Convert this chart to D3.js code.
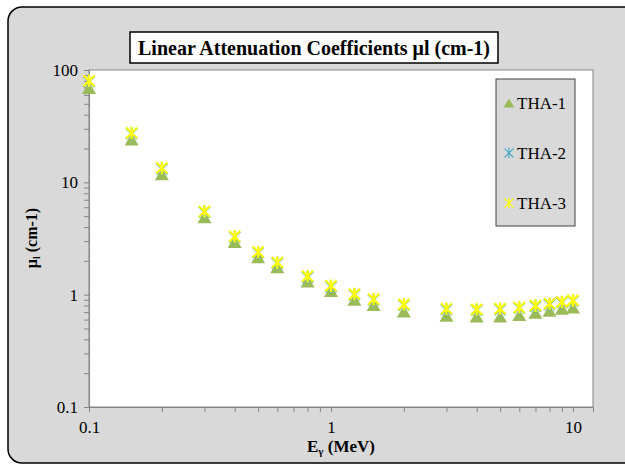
<!DOCTYPE html>
<html>
<head>
<meta charset="utf-8">
<script src="https://cdn.jsdelivr.net/npm/d3@7"></script>
<style>
  html, body { margin: 0; padding: 0; background: #ffffff; }
  svg { display: block; }
</style>
</head>
<body>
<svg id="chart" width="625" height="468"></svg>
<script>
// Photon energies (MeV)
const energies = [0.1, 0.15, 0.2, 0.3, 0.4, 0.5, 0.6, 0.8, 1, 1.25, 1.5, 2, 3, 4, 5, 6, 7, 8, 9, 10];

// Linear attenuation coefficients (cm-1) for each sample
const tha1 = [69, 24, 11.8, 4.9, 2.95, 2.15, 1.75, 1.31, 1.08, 0.9, 0.81, 0.71, 0.65, 0.64, 0.64, 0.66, 0.69, 0.72, 0.75, 0.77];
const tha2 = [79, 27.2, 13.2, 5.45, 3.26, 2.37, 1.91, 1.44, 1.18, 1.0, 0.9, 0.81, 0.74, 0.73, 0.74, 0.76, 0.79, 0.82, 0.85, 0.88];
const tha3 = [80, 27.5, 13.4, 5.5, 3.3, 2.4, 1.93, 1.46, 1.2, 1.01, 0.91, 0.82, 0.75, 0.74, 0.75, 0.77, 0.8, 0.83, 0.86, 0.89];

const seriesNames = ["THA-1", "THA-2", "THA-3"];
const xTickValues = [0.1, 1, 10];
const yTickValues = [0.1, 1, 10, 100];

const FONT = '"Liberation Serif"';
const svg = d3.select("#chart").attr("font-family", "Liberation Serif");

// Chart area background with rounded left corners
svg.append("rect")
  .attr("x", 8).attr("y", 7)
  .attr("width", 680).attr("height", 456)
  .attr("rx", 14).attr("ry", 14)
  .attr("fill", "#d9d9d9")
  .attr("stroke", "#000").attr("stroke-width", 1.5);

const plot = { left: 89, top: 70, right: 593, bottom: 407 };

const x = d3.scaleLog().domain([0.1, 12.1]).range([plot.left, plot.right]);
const y = d3.scaleLog().domain([0.1, 100]).range([plot.bottom, plot.top]);

// Plot area
svg.append("rect")
  .attr("x", plot.left).attr("y", plot.top)
  .attr("width", plot.right - plot.left).attr("height", plot.bottom - plot.top)
  .attr("fill", "#fff")
  .attr("stroke", "#868686").attr("stroke-width", 1);

// Axes
const minorX = [];
[0.1, 1].forEach(d => { for (let k = 2; k <= 9; k++) minorX.push(d * k); });
const minorY = [];
[0.1, 1, 10].forEach(d => { for (let k = 2; k <= 9; k++) minorY.push(d * k); });

const xAxis = d3.axisBottom(x).tickValues(xTickValues.concat(minorX))
  .tickSize(5).tickFormat(d => xTickValues.includes(d) ? String(d) : "");
const gx = svg.append("g").attr("transform", `translate(0,${plot.bottom})`).call(xAxis)
  .attr("font-family", "Liberation Serif");
gx.select(".domain").attr("stroke", "#868686");
gx.selectAll(".tick line").attr("stroke", "#868686");
gx.selectAll(".tick text").attr("dy", "1.05em").attr("fill", "#000")
  .style("font-family", FONT).style("font-size", "17px");

const yAxis = d3.axisLeft(y).tickValues(yTickValues.concat(minorY))
  .tickSize(5).tickFormat(d => yTickValues.includes(d) ? String(d) : "");
const gy = svg.append("g").attr("transform", `translate(${plot.left},0)`).call(yAxis)
  .attr("font-family", "Liberation Serif");
gy.select(".domain").attr("stroke", "#868686");
gy.selectAll(".tick line").attr("stroke", "#868686");
gy.selectAll(".tick text").attr("x", -11).attr("fill", "#000")
  .style("font-family", FONT).style("font-size", "17px");

// Marker shapes
const triPath = (w, h) => `M0,${-h / 2}L${w / 2},${h / 2}L${-w / 2},${h / 2}Z`;
const starPath = r => `M${-r},${-r}L${r},${r}M${-r},${r}L${r},${-r}M0,${-r * 1.15}L0,${r * 1.15}`;

const colors = ["#9bbb59", "#4bacc6", "#ffff00"];

// THA-1 triangles
svg.append("g").selectAll("path").data(energies.map((e, i) => [e, tha1[i]])).join("path")
  .attr("transform", d => `translate(${x(d[0])},${y(d[1])})`)
  .attr("d", triPath(14, 12))
  .attr("fill", colors[0]);

// THA-2 and THA-3 stars
[[tha2, colors[1]], [tha3, colors[2]]].forEach(([vals, c]) => {
  svg.append("g").selectAll("path").data(energies.map((e, i) => [e, vals[i]])).join("path")
    .attr("transform", d => `translate(${x(d[0])},${y(d[1])})`)
    .attr("d", starPath(5.5))
    .attr("fill", "none")
    .attr("stroke", c).attr("stroke-width", 2.2);
});

// Legend
const lg = svg.append("g");
lg.append("rect").attr("x", 496).attr("y", 79).attr("width", 79).attr("height", 147)
  .attr("fill", "#d9d9d9").attr("stroke", "#404040").attr("stroke-width", 1);
const legendY = [103, 153, 203];
seriesNames.forEach((name, i) => {
  const g = lg.append("g").attr("transform", `translate(509,${legendY[i]})`);
  if (i === 0) {
    g.append("path").attr("d", triPath(11, 9)).attr("fill", colors[0]);
  } else {
    g.append("path").attr("d", starPath(4.5)).attr("fill", "none")
      .attr("stroke", colors[i]).attr("stroke-width", 1.2);
  }
  g.append("text").attr("x", 8).attr("dy", "0.35em").attr("fill", "#000")
    .style("font-family", FONT).style("font-size", "17px").text(name);
});

// Title
svg.append("rect").attr("x", 130).attr("y", 32).attr("width", 368).attr("height", 31)
  .attr("fill", "#fff").attr("stroke", "#000").attr("stroke-width", 1.5);
svg.append("text").attr("x", 314).attr("y", 48).attr("dy", "0.35em")
  .attr("text-anchor", "middle").attr("fill", "#000")
  .style("font-family", FONT).style("font-size", "20px").style("font-weight", "bold")
  .text("Linear Attenuation Coefficients μl (cm-1)");

// Axis titles
const xt = svg.append("text").attr("x", 341).attr("y", 452)
  .attr("text-anchor", "middle").attr("fill", "#000")
  .style("font-family", FONT).style("font-size", "17px").style("font-weight", "bold");
xt.append("tspan").text("E");
xt.append("tspan").attr("dy", 3).style("font-size", "11px").text("γ");
xt.append("tspan").attr("dy", -3).text(" (MeV)");

const yt = svg.append("text").attr("transform", "translate(37,238) rotate(-90)")
  .attr("text-anchor", "middle").attr("fill", "#000")
  .style("font-family", FONT).style("font-size", "16px").style("font-weight", "bold");
yt.append("tspan").text("μ");
yt.append("tspan").attr("dy", 3).style("font-size", "10px").text("l");
yt.append("tspan").attr("dy", -3).text(" (cm-1)");
</script>
</body>
</html>
